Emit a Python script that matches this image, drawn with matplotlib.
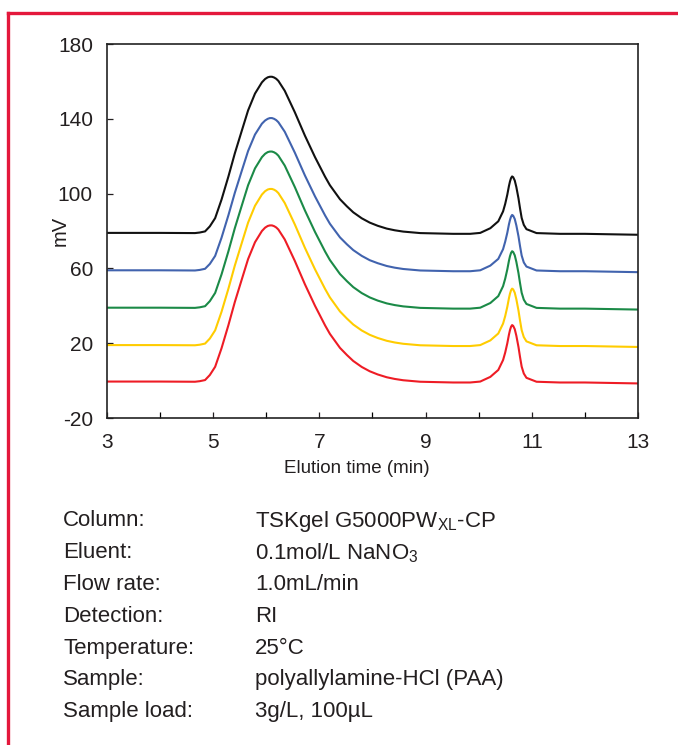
import matplotlib
matplotlib.use("Agg")
import matplotlib.pyplot as plt
from matplotlib import font_manager
from matplotlib.lines import Line2D

# --- data ---
time_min = [3.00, 4.00, 4.66, 4.75, 4.85, 4.94, 5.04, 5.16, 5.29, 5.41, 5.54, 5.66,
            5.79, 5.92, 5.98, 6.03, 6.07, 6.11, 6.15, 6.19, 6.23, 6.35, 6.54, 6.73,
            6.92, 7.11, 7.20, 7.39, 7.52, 7.64, 7.80, 7.95, 8.10, 8.27, 8.42, 8.58,
            8.90, 9.52, 9.84, 10.03,
            10.22, 10.37, 10.46, 10.50, 10.54, 10.57, 10.59, 10.61, 10.63, 10.65,
            10.68, 10.71, 10.75, 10.78, 10.81, 10.85, 10.90, 11.09, 11.53, 12.00, 13.00]

black = [79.0, 79.0, 78.9, 79.2, 79.8, 82.5, 86.9, 96.8, 109.2, 121.5, 133.5, 144.5,
         153.5, 159.5, 161.3, 162.2, 162.5, 162.5, 162.1, 161.4, 160.3, 155.0, 143.5, 131.0,
         119.5, 109.0, 104.5, 97.0, 93.2, 90.0, 86.8, 84.5, 82.8, 81.3, 80.4, 79.7,
         78.9, 78.5, 78.5, 79.0,
         81.5, 85.2, 90.5, 94.5, 99.5, 104.0, 106.5, 108.3, 109.2, 108.8,
         107.0, 103.5, 97.5, 92.0, 87.0, 83.3, 81.0, 78.9, 78.5, 78.5, 78.0]
blue = [59.0, 59.0, 58.9, 59.2, 59.8, 62.4, 66.7, 76.4, 88.5, 100.4, 112.1, 122.8,
        131.6, 137.4, 139.1, 140.0, 140.4, 140.4, 140.0, 139.3, 138.2, 133.1, 121.9, 109.7,
        98.5, 88.3, 83.9, 76.6, 72.9, 69.8, 66.7, 64.4, 62.8, 61.3, 60.4, 59.7,
        58.9, 58.5, 58.5, 59.0,
        61.5, 65.1, 70.3, 74.3, 79.1, 83.5, 85.9, 87.7, 88.6, 88.2,
        86.4, 83.0, 77.2, 71.8, 66.9, 63.2, 61.0, 58.9, 58.5, 58.5, 58.0]
green = [39.0, 39.0, 38.9, 39.2, 39.8, 42.5, 46.9, 56.8, 69.2, 81.5, 93.5, 104.5,
         113.5, 119.5, 121.3, 122.2, 122.5, 122.5, 122.1, 121.4, 120.3, 115.0, 103.5, 91.0,
         79.5, 69.0, 64.5, 57.0, 53.2, 50.0, 46.8, 44.5, 42.8, 41.3, 40.4, 39.7,
         38.9, 38.5, 38.5, 39.0,
         41.5, 45.2, 50.5, 54.5, 59.5, 64.0, 66.5, 68.3, 69.2, 68.8,
         67.0, 63.5, 57.5, 52.0, 47.0, 43.3, 41.0, 38.9, 38.5, 38.5, 38.0]
yellow = [19.0, 19.0, 18.9, 19.2, 19.8, 22.5, 26.9, 36.8, 49.2, 61.5, 73.5, 84.5,
          93.5, 99.5, 101.3, 102.2, 102.5, 102.5, 102.1, 101.4, 100.3, 95.0, 83.5, 71.0,
          59.5, 49.0, 44.5, 37.0, 33.2, 30.0, 26.8, 24.5, 22.8, 21.3, 20.4, 19.7,
          18.9, 18.5, 18.5, 19.0,
          21.5, 25.2, 30.5, 34.5, 39.5, 44.0, 46.5, 48.3, 49.2, 48.8,
          47.0, 43.5, 37.5, 32.0, 27.0, 23.3, 21.0, 18.9, 18.5, 18.5, 18.0]
red = [-0.5, -0.5, -0.6, -0.3, 0.3, 3.0, 7.4, 17.3, 29.7, 42.0, 54.0, 65.0,
       74.0, 80.0, 81.8, 82.7, 83.0, 83.0, 82.6, 81.9, 80.8, 75.5, 64.0, 51.5,
       40.0, 29.5, 25.0, 17.5, 13.7, 10.5, 7.3, 5.0, 3.3, 1.8, 0.9, 0.2,
       -0.6, -1.0, -1.0, -0.5,
       2.0, 5.7, 11.0, 15.0, 20.0, 24.5, 27.0, 28.8, 29.7, 29.3,
       27.5, 24.0, 18.0, 12.5, 7.5, 3.8, 1.5, -0.6, -1.0, -1.0, -1.5]

x_ticks = [3, 5, 7, 9, 11, 13]
y_ticks = [-20, 20, 60, 100, 140, 180]

cond_labels = ["Column:", "Eluent:", "Flow rate:", "Detection:", "Temperature:",
               "Sample:", "Sample load:"]
cond_values = [r"TSKgel G5000PW$_\mathregular{XL}$-CP",
               r"0.1mol/L NaNO$_\mathregular{3}$",
               "1.0mL/min", "RI", "25°C",
               "polyallylamine-HCl (PAA)", "3g/L, 100µL"]

# condensed face if available
names = {f.name for f in font_manager.fontManager.ttflist}
font = "Liberation Sans Narrow" if "Liberation Sans Narrow" in names else "Liberation Sans"
plt.rcParams["font.family"] = [font, "DejaVu Sans"]
plt.rcParams["mathtext.fontset"] = "custom"
plt.rcParams["mathtext.rm"] = font
plt.rcParams["axes.unicode_minus"] = False
text_col = "#231f20"

fig = plt.figure(figsize=(6.78, 7.45), dpi=100)
ax = fig.add_axes([0.1575, 0.4389, 0.7835, 0.502])

series = [(black, "#111111"), (blue, "#4163ae"), (green, "#1b8a47"),
          (yellow, "#ffcc00"), (red, "#ee1c25")]
for vals, col in series:
    ax.plot(time_min, vals, color=col, lw=1.5, solid_joinstyle="round")

ax.set_xlim(3, 13)
ax.set_ylim(-20, 180)
ax.set_xticks(x_ticks)
ax.set_xticks(range(3, 14), minor=True)
ax.set_yticks(y_ticks)
ax.tick_params(direction="in", length=4, width=0.9, labelsize=15, colors=text_col)
ax.tick_params(which="minor", direction="in", length=4, width=0.9)
ax.tick_params(axis="x", pad=11)
ax.tick_params(axis="y", pad=10)
for s in ax.spines.values():
    s.set_linewidth(1.2)
    s.set_color("#222222")

ax.set_xlabel("Elution time (min)", fontsize=13.5, color=text_col)
ax.xaxis.set_label_coords(0.471, -0.112)
ax.set_ylabel("mV", fontsize=14.5, color=text_col)
ax.yaxis.set_label_coords(-0.069, 0.5)

# conditions table
y0 = 1 - 521 / 745
dy = 31.8 / 745
for i, (lab, val) in enumerate(zip(cond_labels, cond_values)):
    fig.text(63 / 678, y0 - i * dy, lab, fontsize=16, color=text_col, va="center")
    fig.text(255 / 678, y0 - i * dy, val, fontsize=16, color=text_col, va="center")

# red frame on left and top
frame_col = "#e4183c"
fig.add_artist(Line2D([8 / 678, 8 / 678], [0, 1 - 13 / 745], color=frame_col, lw=2.4,
                      transform=fig.transFigure, solid_capstyle="projecting"))
fig.add_artist(Line2D([8 / 678, 1], [1 - 13 / 745, 1 - 13 / 745], color=frame_col, lw=2.4,
                      transform=fig.transFigure, solid_capstyle="projecting"))

fig.savefig("out.png", dpi=100)
